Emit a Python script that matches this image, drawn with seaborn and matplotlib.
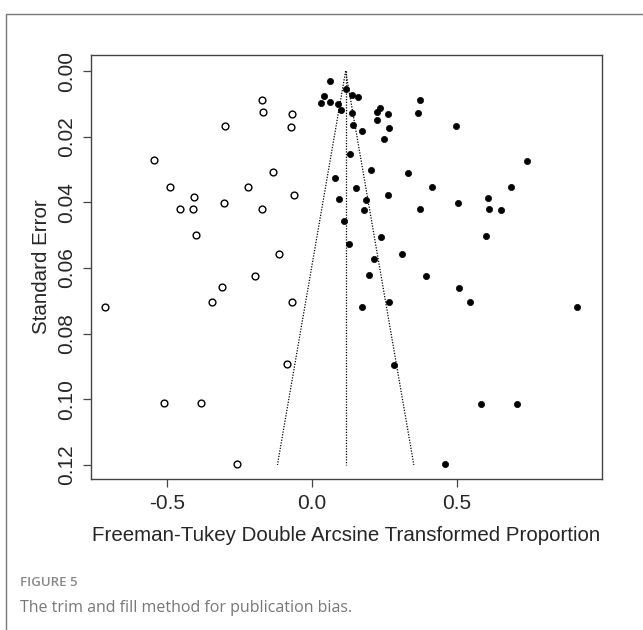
import numpy as np
import pandas as pd
import matplotlib
matplotlib.use("Agg")
import matplotlib.pyplot as plt
import seaborn as sns
from matplotlib.lines import Line2D

# Observed studies (filled)
obs_x = [0.063, 0.040, 0.030, 0.061, 0.089, 0.100, 0.116, 0.139, 0.160, 0.139,
         0.141, 0.130, 0.080, 0.152, 0.094, 0.110, 0.127,
         0.174, 0.223, 0.233, 0.225, 0.261, 0.267, 0.247, 0.371, 0.366, 0.497,
         0.203, 0.332, 0.740, 0.415, 0.687, 0.187, 0.261, 0.179, 0.371, 0.502,
         0.607, 0.609, 0.653, 0.239, 0.599, 0.311, 0.215,
         0.195, 0.393, 0.506, 0.544, 0.267, 0.174, 0.914, 0.284, 0.582, 0.708, 0.459]
obs_se = [0.0031, 0.0077, 0.0098, 0.0093, 0.0100, 0.0119, 0.0056, 0.0073, 0.0078, 0.0127,
          0.0165, 0.0253, 0.0327, 0.0356, 0.0391, 0.0457, 0.0526,
          0.0183, 0.0124, 0.0114, 0.0150, 0.0132, 0.0172, 0.0207, 0.0088, 0.0127, 0.0167,
          0.0300, 0.0310, 0.0273, 0.0354, 0.0354, 0.0394, 0.0379, 0.0423, 0.0420, 0.0403,
          0.0386, 0.0420, 0.0423, 0.0507, 0.0502, 0.0558, 0.0572,
          0.0621, 0.0625, 0.0660, 0.0704, 0.0704, 0.0719, 0.0719, 0.0895, 0.1013, 0.1013, 0.1197]

# Imputed studies (open)
fill_x = [-0.173, -0.170, -0.068, -0.299, -0.072, -0.545, -0.136, -0.491, -0.220, -0.408,
          -0.063, -0.455, -0.410, -0.305, -0.173, -0.400, -0.113,
          -0.198, -0.309, -0.345, -0.069, -0.715, -0.085, -0.509, -0.384, -0.260]
fill_se = [0.0087, 0.0126, 0.0130, 0.0166, 0.0171, 0.0272, 0.0308, 0.0353, 0.0353, 0.0385,
           0.0378, 0.0421, 0.0419, 0.0402, 0.0419, 0.0500, 0.0557,
           0.0624, 0.0658, 0.0703, 0.0703, 0.0718, 0.0894, 0.1012, 0.1012, 0.1196]

pooled = 0.116
se_max = 0.12
x_ticks = [-0.5, 0.0, 0.5]
y_ticks = [0.00, 0.02, 0.04, 0.06, 0.08, 0.10, 0.12]

df = pd.DataFrame({
    "x": obs_x + fill_x,
    "se": obs_se + fill_se,
    "kind": ["observed"] * len(obs_x) + ["filled"] * len(fill_x),
})

sns.set_style("white")
plt.rcParams['font.family'] = ['Liberation Sans', 'DejaVu Sans']

fig = plt.figure(figsize=(6.43, 6.30), dpi=100)
ax = fig.add_axes([91/643, 1 - 479/630, (602 - 91)/643, (479 - 55)/630])

# funnel
se_line = np.array([0.0, se_max])
ax.plot([pooled, pooled], [0, se_max], color="black", lw=0.9, ls=(0, (1, 1.2)))
ax.plot(pooled - 1.96 * se_line, se_line, color="black", lw=0.9, ls=(0, (1, 1.2)))
ax.plot(pooled + 1.96 * se_line, se_line, color="black", lw=0.9, ls=(0, (1, 1.2)))

sns.scatterplot(data=df[df.kind == "observed"], x="x", y="se", ax=ax,
                color="black", edgecolor="black", s=20, linewidth=0.5, legend=False, zorder=3)
sns.scatterplot(data=df[df.kind == "filled"], x="x", y="se", ax=ax,
                facecolor="white", edgecolor="black", s=24, linewidth=1.0, legend=False, zorder=3)

ax.set_xlim(-0.762, 1.0)
ax.set_ylim(0.1243, -0.0049)
ax.set_xticks(x_ticks)
ax.set_xticklabels(["%.1f" % v for v in x_ticks])
ax.set_yticks(y_ticks)
ax.set_yticklabels(["%.2f" % v for v in y_ticks])
for lab in ax.get_yticklabels():
    lab.set_rotation(90)
    lab.set_va("center")

for sp in ax.spines.values():
    sp.set_visible(True)
    sp.set_color("#444444")
    sp.set_linewidth(1.0)
ax.tick_params(axis="both", which="major", direction="out", length=6, width=0.9,
               color="#444444", labelsize=15, left=True, bottom=True, pad=5)
ax.set_xlabel("Freeman-Tukey Double Arcsine Transformed Proportion", fontsize=14.8, labelpad=9)
ax.set_ylabel("Standard Error", fontsize=14.8, labelpad=4)

# outer panel frame and caption
fig.add_artist(Line2D([6/643, 6/643], [0, 1 - 14/630], transform=fig.transFigure,
                      color="#777777", lw=1.0))
fig.add_artist(Line2D([6/643, 1], [1 - 14/630, 1 - 14/630], transform=fig.transFigure,
                      color="#777777", lw=1.0))
fig.text(20/643, 1 - 583/630, "FIGURE 5", fontsize=9.5, color="#888888",
         va="center", ha="left", family=["Open Sans", "DejaVu Sans"], fontweight="semibold")
fig.text(20/643, 1 - 608/630, "The trim and fill method for publication bias.", fontsize=11.5,
         color="#777777", va="center", ha="left", family=["Open Sans", "DejaVu Sans"])

fig.savefig("out.png", dpi=100)
